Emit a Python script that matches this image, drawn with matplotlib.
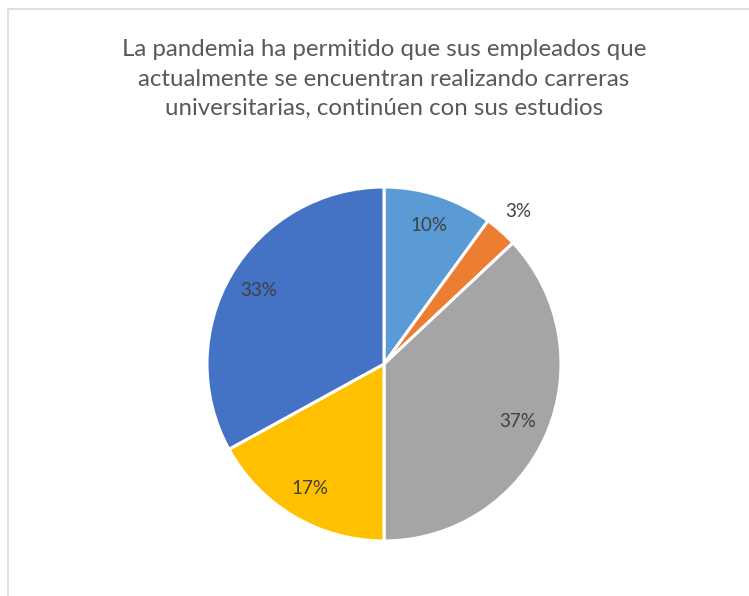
import numpy as np
import matplotlib
matplotlib.use('Agg')
import matplotlib.pyplot as plt
from matplotlib.patches import Rectangle

# Data (clockwise from 12 o'clock)
values = [10, 3, 37, 17, 33]
colors = ['#5B9BD5', '#ED7D31', '#A5A5A5', '#FFC000', '#4472C4']
title = ('La pandemia ha permitido que sus empleados que\n'
         'actualmente se encuentran realizando carreras\n'
         'universitarias, continúen con sus estudios')

plt.rcParams['font.family'] = ['Lato', 'DejaVu Sans']

W, H = 749, 596
fig = plt.figure(figsize=(W / 100, H / 100), dpi=100)

# chart frame (light gray, only top and left visible)
fig.patches.append(Rectangle((8 / W, -0.1), 1.2, (H - 9) / H + 0.1, transform=fig.transFigure,
                             fill=False, edgecolor='#D9D9D9', linewidth=1.2))

fig.text(384 / W, 1 - 79 / H, title, ha='center', va='center', fontsize=17.3,
         color='#595959', linespacing=1.52)

cx, cy, r = 384, 364, 177
ax = fig.add_axes([(cx - r) / W, (H - cy - r) / H, 2 * r / W, 2 * r / H])
wedges, texts, autotexts = ax.pie(values, colors=colors, startangle=90, counterclock=False,
                                  autopct='%1.0f%%', pctdistance=0.82, radius=1,
                                  wedgeprops=dict(edgecolor='white', linewidth=2.2),
                                  textprops=dict(color='#404040', fontsize=13.5))
ax.set_xlim(-1, 1)
ax.set_ylim(-1, 1)

# small slice label sits outside the pie
for w, t, v in zip(wedges, autotexts, values):
    if v < 5:
        ang = np.deg2rad((w.theta1 + w.theta2) / 2)
        t.set_position((1.15 * np.cos(ang), 1.15 * np.sin(ang)))

fig.savefig('out.png', dpi=100)
